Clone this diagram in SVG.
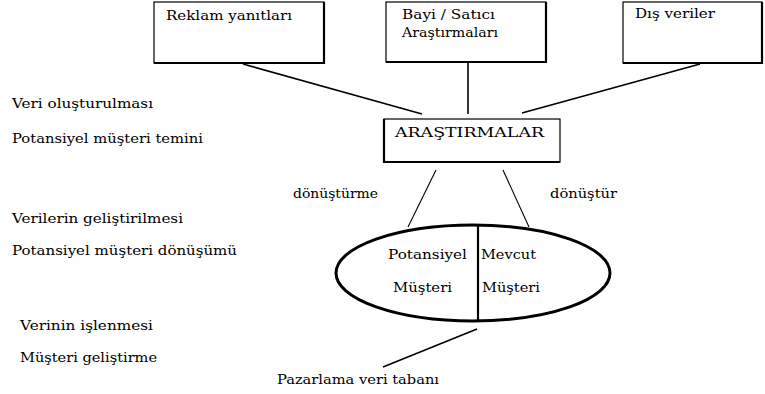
<svg xmlns="http://www.w3.org/2000/svg" width="765" height="394" viewBox="0 0 765 394" font-family="DejaVu Serif, Liberation Serif, serif" font-size="13.5">
  <style>
    text { fill: #000; }
    .box { fill: #fff; stroke: #000; stroke-width: 1.2; }
    .shade { fill: none; stroke: #000; stroke-width: 2.2; }
    .link { fill: none; stroke: #000; stroke-width: 1.6; }
    .thin { fill: none; stroke: #000; stroke-width: 1.1; }
  </style>
  <rect width="765" height="394" fill="#fff"/>

  <!-- connectors -->
  <g id="connectors">
    <line class="link" x1="243" y1="64" x2="422" y2="114"/>
    <line class="link" x1="468" y1="63" x2="468" y2="114"/>
    <line class="link" x1="700" y1="64" x2="522" y2="113"/>
    <line class="thin" x1="436" y1="170" x2="408" y2="227"/>
    <line class="thin" x1="503" y1="170" x2="529" y2="227"/>
    <line class="link" x1="477" y1="329" x2="383" y2="367"/>
  </g>

  <!-- source boxes -->
  <g id="reklam">
    <rect class="box" x="154" y="2" width="170" height="61"/>
    <path class="shade" d="M154,63 H324 V2"/>
    <text x="166" y="20" textLength="126" lengthAdjust="spacingAndGlyphs">Reklam yanıtları</text>
  </g>
  <g id="bayi">
    <rect class="box" x="386" y="2" width="160" height="60"/>
    <path class="shade" d="M386,62 H546 V2"/>
    <text x="402" y="19" textLength="93" lengthAdjust="spacingAndGlyphs">Bayi / Satıcı</text>
    <text x="402" y="37" textLength="96" lengthAdjust="spacingAndGlyphs">Araştırmaları</text>
  </g>
  <g id="dis">
    <rect class="box" x="623" y="2" width="139" height="61"/>
    <path class="shade" d="M623,63 H762 V2"/>
    <text x="635" y="18" textLength="80" lengthAdjust="spacingAndGlyphs">Dış veriler</text>
  </g>

  <!-- central research box -->
  <g id="arastirmalar">
    <rect class="box" x="384" y="119" width="176" height="43"/>
    <path class="shade" d="M384,119 V162 H560"/>
    <text x="395" y="137" textLength="149" lengthAdjust="spacingAndGlyphs">ARAŞTIRMALAR</text>
  </g>

  <!-- conversion labels -->
  <g id="donusturme">
    <text x="293" y="198" textLength="85" lengthAdjust="spacingAndGlyphs">dönüştürme</text>
  </g>
  <g id="donustur">
    <text x="550" y="198" textLength="67" lengthAdjust="spacingAndGlyphs">dönüştür</text>
  </g>

  <!-- customer database ellipse -->
  <g id="musteri">
    <ellipse cx="473" cy="273" rx="137" ry="48" fill="none" stroke="#000" stroke-width="3"/>
    <line x1="478" y1="226" x2="478" y2="320" stroke="#000" stroke-width="2.2"/>
    <text x="388" y="259" textLength="79" lengthAdjust="spacingAndGlyphs">Potansiyel</text>
    <text x="393" y="292" textLength="59" lengthAdjust="spacingAndGlyphs">Müşteri</text>
    <text x="481" y="259" textLength="55" lengthAdjust="spacingAndGlyphs">Mevcut</text>
    <text x="482" y="292" textLength="58" lengthAdjust="spacingAndGlyphs">Müşteri</text>
  </g>

  <g id="pazarlama">
    <text x="277" y="384" textLength="162" lengthAdjust="spacingAndGlyphs">Pazarlama veri tabanı</text>
  </g>

  <!-- stage labels on the left -->
  <g id="asamalar">
    <text x="12" y="108" textLength="141" lengthAdjust="spacingAndGlyphs">Veri oluşturulması</text>
    <text x="12" y="143" textLength="191" lengthAdjust="spacingAndGlyphs">Potansiyel müşteri temini</text>
    <text x="12" y="223" textLength="171" lengthAdjust="spacingAndGlyphs">Verilerin geliştirilmesi</text>
    <text x="12" y="255" textLength="225" lengthAdjust="spacingAndGlyphs">Potansiyel müşteri dönüşümü</text>
    <text x="20" y="330" textLength="133" lengthAdjust="spacingAndGlyphs">Verinin işlenmesi</text>
    <text x="20" y="362" textLength="137" lengthAdjust="spacingAndGlyphs">Müşteri geliştirme</text>
  </g>
</svg>
